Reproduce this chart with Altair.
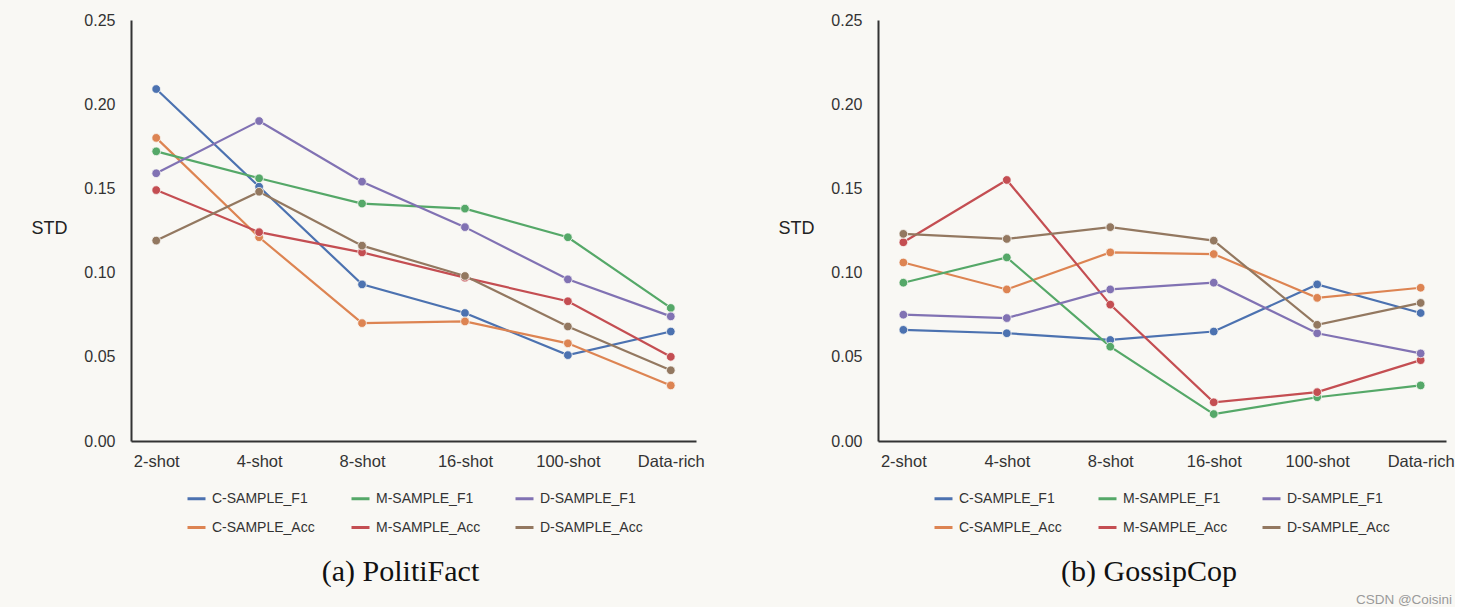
import altair as alt
import pandas as pd

shots = ["2-shot", "4-shot", "8-shot", "16-shot", "100-shot", "Data-rich"]
# legend order (filled column by column, two rows)
series = ["C-SAMPLE_F1", "C-SAMPLE_Acc", "M-SAMPLE_F1",
          "M-SAMPLE_Acc", "D-SAMPLE_F1", "D-SAMPLE_Acc"]
colors = ["#4C72B0", "#DD8452", "#55A868", "#C44E52", "#8172B3", "#937860"]

# (a) PolitiFact
pf_c_f1 = [0.209, 0.151, 0.093, 0.076, 0.051, 0.065]
pf_m_f1 = [0.172, 0.156, 0.141, 0.138, 0.121, 0.079]
pf_d_f1 = [0.159, 0.190, 0.154, 0.127, 0.096, 0.074]
pf_c_acc = [0.180, 0.121, 0.070, 0.071, 0.058, 0.033]
pf_m_acc = [0.149, 0.124, 0.112, 0.097, 0.083, 0.050]
pf_d_acc = [0.119, 0.148, 0.116, 0.098, 0.068, 0.042]

# (b) GossipCop
gc_c_f1 = [0.066, 0.064, 0.060, 0.065, 0.093, 0.076]
gc_m_f1 = [0.094, 0.109, 0.056, 0.016, 0.026, 0.033]
gc_d_f1 = [0.075, 0.073, 0.090, 0.094, 0.064, 0.052]
gc_c_acc = [0.106, 0.090, 0.112, 0.111, 0.085, 0.091]
gc_m_acc = [0.118, 0.155, 0.081, 0.023, 0.029, 0.048]
gc_d_acc = [0.123, 0.120, 0.127, 0.119, 0.069, 0.082]

pf_values = [pf_c_f1, pf_c_acc, pf_m_f1, pf_m_acc, pf_d_f1, pf_d_acc]
gc_values = [gc_c_f1, gc_c_acc, gc_m_f1, gc_m_acc, gc_d_f1, gc_d_acc]


def long_df(values):
    rows = []
    for name, vals in zip(series, values):
        for shot, v in zip(shots, vals):
            rows.append({"shot": shot, "series": name, "std": v})
    return pd.DataFrame(rows)


FONT = "Liberation Sans"
AXIS_COLOR = "#333333"
BG = "#F9F8F4"


def panel(values, caption, width):
    df = long_df(values)
    x = alt.X("shot:N", sort=shots,
              scale=alt.Scale(type="point", padding=0.245),
              axis=alt.Axis(title=None, labelAngle=0, ticks=False, tickSize=0,
                            labelPadding=12, labelFontSize=16.5, labelFont=FONT,
                            labelColor=AXIS_COLOR, domainColor=AXIS_COLOR,
                            domainWidth=2, grid=False))
    y = alt.Y("std:Q", scale=alt.Scale(domain=[0, 0.25], nice=False),
              axis=alt.Axis(title="STD", titleAngle=0, titleAlign="center",
                            titleBaseline="middle", titleX=-82, titleY=208,
                            titleFont=FONT, titleFontSize=18, titleFontWeight="normal",
                            titleColor="#222222",
                            values=[0, 0.05, 0.10, 0.15, 0.20, 0.25], format=".2f",
                            ticks=False, tickSize=0, labelPadding=16,
                            labelFontSize=16, labelFont=FONT, labelColor=AXIS_COLOR,
                            domainColor=AXIS_COLOR, domainWidth=2, grid=False))
    color = alt.Color("series:N", sort=series,
                      scale=alt.Scale(domain=series, range=colors),
                      legend=alt.Legend(title=None, orient="none", legendX=55,
                                        legendY=468, columns=3, columnPadding=28,
                                        gridAlign="all",
                                        rowPadding=11, symbolType="stroke",
                                        symbolStrokeWidth=3, symbolSize=324,
                                        labelOffset=5, labelFont=FONT,
                                        labelFontSize=14, labelColor=AXIS_COLOR))
    base = alt.Chart(df).encode(x=x, y=y, color=color)
    lines = base.mark_line(strokeWidth=2.2)
    points = base.mark_point(filled=True, size=75, opacity=1,
                             stroke=BG, strokeWidth=0.8)
    return alt.layer(lines, points).properties(
        width=width, height=421,
        title=alt.TitleParams(caption, orient="bottom", font="Liberation Serif",
                              fontSize=30, fontWeight="normal", color="#111111",
                              dx=-13, offset=22),
    )


left = panel(pf_values, "(a) PolitiFact", 565)
right = panel(gc_values, "(b) GossipCop", 568)

chart = alt.hconcat(left, right, spacing=73).resolve_scale(
    color="independent"
).properties(
    background=BG,
    padding={"left": 31, "top": 12, "right": 0, "bottom": 0},
    title=alt.TitleParams("CSDN @Coisini", orient="bottom", anchor="end",
                          font=FONT, fontSize=13.5, fontWeight="normal",
                          color="#9a9a9a", offset=6, dx=-2),
).configure_view(stroke=None)

chart.save("out.html", embed_options={"renderer": "svg", "actions": False})
